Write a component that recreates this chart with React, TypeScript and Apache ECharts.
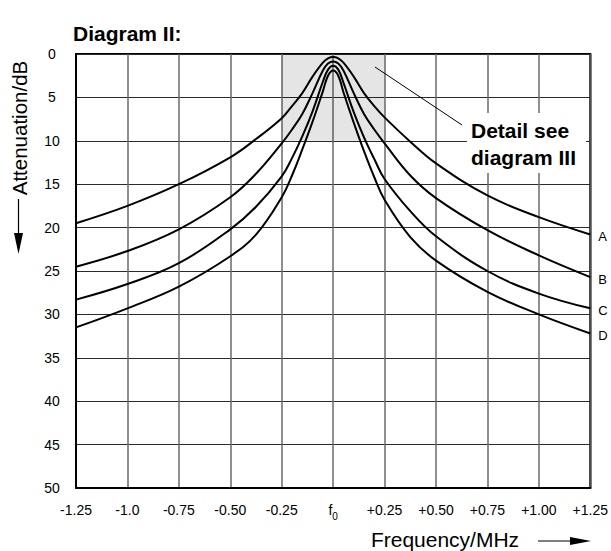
import React, { useEffect, useRef } from "react";
import * as echarts from "echarts";

const freqs = [-1.25, -1.0, -0.75, -0.5, -0.375, -0.25, -0.2, -0.15, -0.1, -0.05, -0.025, 0, 0.025, 0.05, 0.1, 0.15, 0.2, 0.25, 0.375, 0.5, 0.75, 1.0, 1.25];
const attA = [19.5, 17.5, 15.0, 11.9, 9.8, 7.4, 6.0, 4.5, 2.6, 1.0, 0.5, 0.35, 0.5, 1.0, 2.6, 4.5, 6.0, 7.3, 10.1, 12.6, 16.3, 18.8, 20.8];
const attB = [24.5, 22.7, 20.2, 16.5, 13.8, 10.3, 8.7, 6.9, 4.5, 1.9, 1.1, 0.85, 1.1, 1.9, 4.5, 6.9, 8.7, 10.3, 14.0, 16.6, 20.3, 23.2, 25.7];
const attC = [28.3, 26.5, 24.1, 20.2, 17.6, 14.1, 12.0, 9.5, 6.6, 3.2, 1.8, 1.35, 1.8, 3.3, 6.7, 9.6, 12.1, 14.4, 18.1, 21.0, 25.0, 27.6, 29.3];
const attD = [31.5, 29.3, 26.8, 23.3, 20.8, 16.5, 14.0, 11.0, 7.8, 4.3, 2.5, 1.9, 2.5, 4.4, 7.9, 11.2, 14.2, 16.8, 21.1, 23.8, 27.4, 30.0, 32.2];
const seriesNames = ["A", "B", "C", "D"];
const xTickLabels = ["-1.25", "-1.0", "-0.75", "-0.50", "-0.25", "{f|f}{sub|0}", "+0.25", "+0.50", "+0.75", "+1.00", "+1.25"];
const yTickLabels = ["0", "5", "10", "15", "20", "25", "30", "35", "40", "45", "50"];
const detailArea = { x0: -0.25, x1: 0.25, y0: 0, y1: 10 };

const FONT = "'Liberation Sans', Arial, Helvetica, sans-serif";

export default function App() {
  const ref = useRef<HTMLDivElement>(null);
  useEffect(() => {
    if (!ref.current) return;
    const chart = echarts.init(ref.current, undefined, { renderer: "svg" });
    const all = [attA, attB, attC, attD];
    const series: any[] = all.map((arr, i) => ({
      name: seriesNames[i],
      type: "line",
      data: freqs.map((f, k) => [f, arr[k]]),
      showSymbol: false,
      smooth: 0.4,
      lineStyle: { color: "#000", width: 2 },
      endLabel: {
        show: true,
        formatter: "{a}",
        color: "#000",
        fontSize: 13,
        fontFamily: FONT,
        distance: 8,
        offset: [0, 2],
      },
      z: 3,
      markArea:
        i === 0
          ? {
              silent: true,
              itemStyle: { color: "rgba(0,0,0,0.1)" },
              data: [[{ xAxis: detailArea.x0, yAxis: detailArea.y0 }, { xAxis: detailArea.x1, yAxis: detailArea.y1 }]],
            }
          : undefined,
    }));
    chart.setOption({
      animation: false,
      textStyle: { fontFamily: FONT },
      grid: { left: 76, right: 19, top: 54, bottom: 63, show: true, borderColor: "#000", borderWidth: 2, backgroundColor: "transparent" },
      xAxis: {
        type: "value",
        min: -1.25,
        max: 1.25,
        interval: 0.25,
        axisLine: { show: true, onZero: false, lineStyle: { color: "#000", width: 2 } },
        axisTick: { show: false },
        splitLine: { show: true, lineStyle: { color: "#6a6a6a", width: 1.5 } },
        axisLabel: {
          margin: 15,
          color: "#000",
          fontSize: 14,
          fontFamily: FONT,
          showMinLabel: true,
          showMaxLabel: true,
          formatter: (v: number) => xTickLabels[Math.round((v + 1.25) / 0.25)] ?? "",
          rich: {
            f: { fontSize: 14, verticalAlign: "top", color: "#000", fontFamily: FONT },
            sub: { fontSize: 10, verticalAlign: "top", padding: [8, 0, 0, 0], color: "#000", fontFamily: FONT },
          },
        },
      },
      yAxis: {
        type: "value",
        inverse: true,
        min: 0,
        max: 50,
        interval: 5,
        axisLine: { show: true, onZero: false, lineStyle: { color: "#000", width: 2 } },
        axisTick: { show: false },
        splitLine: { show: true, lineStyle: { color: "#2a2a2a", width: 1.2 } },
        axisLabel: {
          margin: 24,
          align: "center",
          color: "#000",
          fontSize: 14,
          fontFamily: FONT,
          formatter: (v: number) => yTickLabels[Math.round(v / 5)] ?? "",
        },
      },
      series,
      graphic: [
        {
          type: "text",
          left: 73,
          top: 23,
          style: { text: "Diagram II:", fontSize: 21, fontWeight: "bold", fill: "#000", fontFamily: FONT },
        },
        {
          type: "text",
          x: 19,
          y: 128,
          rotation: Math.PI / 2,
          style: { text: "Attenuation/dB", fontSize: 20.5, fill: "#000", fontFamily: FONT, align: "center", verticalAlign: "middle" },
        },
        { type: "line", shape: { x1: 18.5, y1: 199, x2: 18.5, y2: 238 }, style: { stroke: "#000", lineWidth: 1.2 } },
        { type: "polygon", shape: { points: [[14, 233], [23, 233], [18.5, 254]] }, style: { fill: "#000" } },
        {
          type: "text",
          x: 445,
          y: 539,
          style: { text: "Frequency/MHz", fontSize: 21, fill: "#000", fontFamily: FONT, align: "center", verticalAlign: "middle" },
        },
        { type: "line", shape: { x1: 538, y1: 541, x2: 575, y2: 541 }, style: { stroke: "#000", lineWidth: 1.2 } },
        { type: "polygon", shape: { points: [[570, 537], [570, 545], [591, 541]] }, style: { fill: "#000" } },
        { type: "line", z: 5, shape: { x1: 375, y1: 67, x2: 462, y2: 125 }, style: { stroke: "#000", lineWidth: 1 } },
        { type: "rect", z: 1, shape: { x: 467, y: 113, width: 119, height: 60 }, style: { fill: "#fff" } },
        {
          type: "text",
          z: 10,
          x: 471,
          y: 130,
          style: { text: "Detail see", fontSize: 21, fontWeight: "bold", fill: "#000", fontFamily: FONT, align: "left", verticalAlign: "middle" },
        },
        {
          type: "text",
          z: 10,
          x: 471,
          y: 157,
          style: { text: "diagram III", fontSize: 21, fontWeight: "bold", fill: "#000", fontFamily: FONT, align: "left", verticalAlign: "middle" },
        },
      ],
    });
    return () => chart.dispose();
  }, []);
  return <div ref={ref} style={{ position: "absolute", left: 0, top: 0, width: 611, height: 551, background: "#fff" }} />;
}
